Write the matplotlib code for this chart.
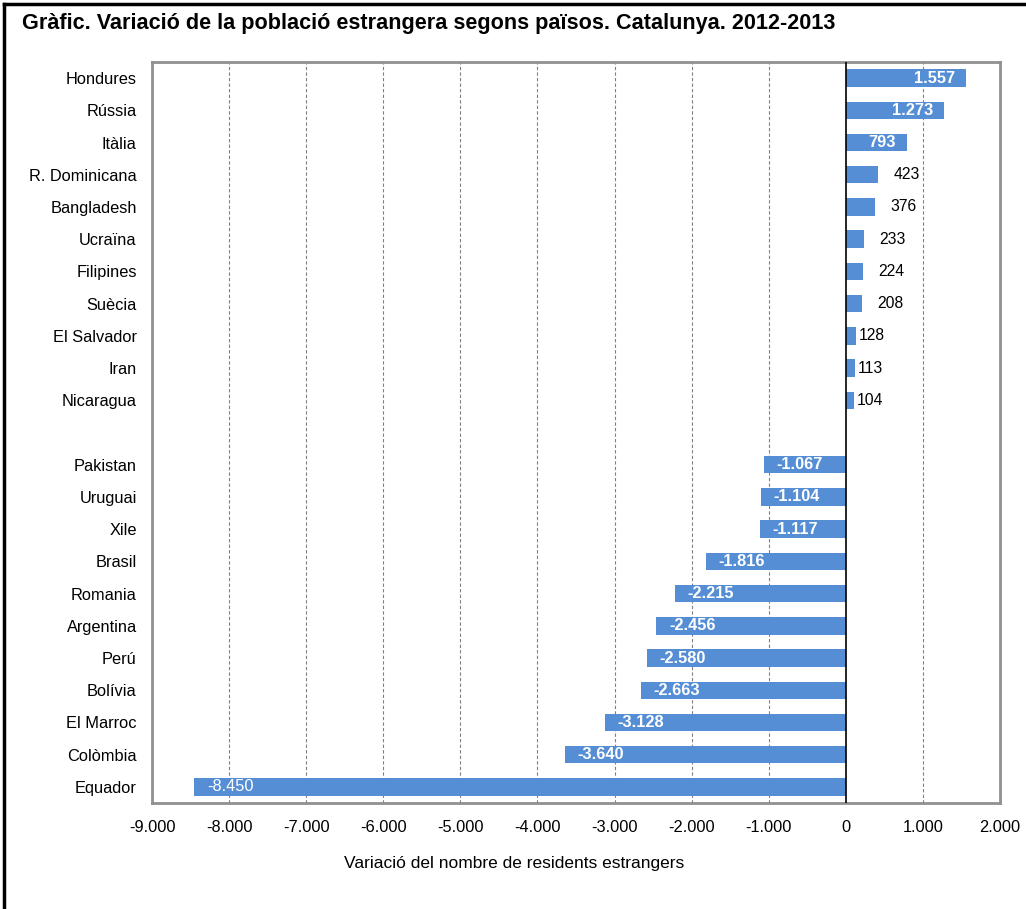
import numpy as np
import matplotlib.pyplot as plt
from matplotlib.lines import Line2D

plt.rcParams['font.family'] = ['Liberation Sans', 'DejaVu Sans']

# Dades
paisos_pos = ['Hondures', 'Rússia', 'Itàlia', 'R. Dominicana', 'Bangladesh',
              'Ucraïna', 'Filipines', 'Suècia', 'El Salvador', 'Iran', 'Nicaragua']
valors_pos = [1557, 1273, 793, 423, 376, 233, 224, 208, 128, 113, 104]
paisos_neg = ['Pakistan', 'Uruguai', 'Xile', 'Brasil', 'Romania', 'Argentina',
              'Perú', 'Bolívia', 'El Marroc', 'Colòmbia', 'Equador']
valors_neg = [-1067, -1104, -1117, -1816, -2215, -2456, -2580, -2663, -3128, -3640, -8450]
xticks = list(range(-9000, 2001, 1000))


def fmt(v):
    return '{:,}'.format(v).replace(',', '.')


paisos = paisos_pos + [''] + paisos_neg
valors = valors_pos + [None] + valors_neg
n = len(paisos)
ypos = np.arange(n)

fig = plt.figure(figsize=(10.26, 9.09), dpi=100)
ax = fig.add_axes([152 / 1026, 1 - 803 / 909, 848 / 1026, 741 / 909])

color = '#558ED5'
fs = 11.8
for y, v in zip(ypos, valors):
    if v is None:
        continue
    ax.barh(y, v, height=0.54, color=color, zorder=3)
    if v < 0:
        pes = 'normal' if v < -8000 else 'bold'
        ax.annotate(fmt(v), (v, y), xytext=(9, 0), textcoords='offset points',
                    ha='left', va='center', color='white', fontsize=fs,
                    fontweight=pes, zorder=4)
    elif v > 700:
        ax.annotate(fmt(v), (v, y), xytext=(-8, 0), textcoords='offset points',
                    ha='right', va='center', color='white', fontsize=fs,
                    fontweight='bold', zorder=4)
    else:
        off = 11 if v > 150 else 2
        ax.annotate(fmt(v), (v, y), xytext=(off, 0), textcoords='offset points',
                    ha='left', va='center', color='black', fontsize=fs - 0.5,
                    zorder=4)

ax.set_xlim(-9000, 2000)
ax.set_ylim(n - 0.5, -0.5)
ax.set_xticks(xticks)
ax.set_xticklabels([fmt(t) for t in xticks], fontsize=fs)
ax.set_yticks(ypos)
ax.set_yticklabels(paisos, fontsize=fs)
ax.tick_params(length=0, pad=11)
ax.tick_params(axis='x', pad=12)
for t in xticks:
    if t != 0:
        ax.axvline(t, color='#808080', lw=0.8, ls=(0, (3, 2)), zorder=1)
ax.axvline(0, color='black', lw=1.2, zorder=5)
for s in ax.spines.values():
    s.set_color('#909090')
    s.set_linewidth(2)

ax.set_xlabel('Variació del nombre de residents estrangers', fontsize=12.5, labelpad=16)
ax.xaxis.set_label_coords((514 - 152) / 848, -0.072)

fig.text(22 / 1026, 1 - 24 / 909,
         'Gràfic. Variació de la població estrangera segons països. Catalunya. 2012-2013',
         fontsize=15.6, fontweight='bold', va='center', ha='left')

# marc exterior
fig.add_artist(Line2D([4 / 1026, 4 / 1026], [0, 1 - 4 / 909], color='black', lw=2.5,
                      transform=fig.transFigure))
fig.add_artist(Line2D([4 / 1026, 1], [1 - 4 / 909, 1 - 4 / 909], color='black', lw=2.5,
                      transform=fig.transFigure))

fig.savefig('out.png', dpi=100)
